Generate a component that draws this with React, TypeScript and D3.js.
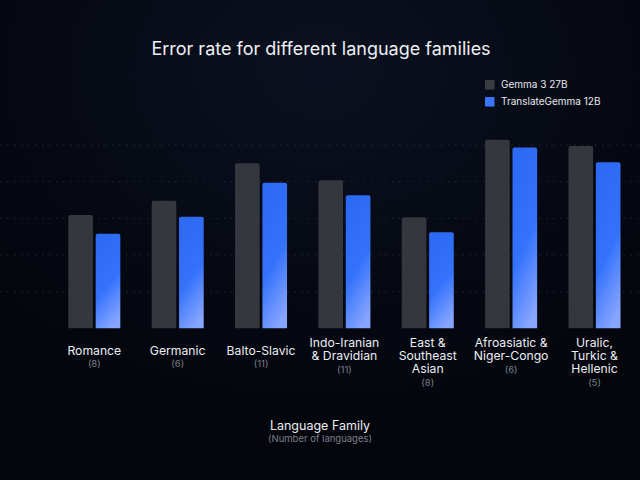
import React from "react";
import * as d3 from "d3";

const categories = [
  "Romance",
  "Germanic",
  "Balto-Slavic",
  "Indo-Iranian & Dravidian",
  "East & Southeast Asian",
  "Afroasiatic & Niger-Congo",
  "Uralic, Turkic & Hellenic",
];
const labelLines = [
  ["Romance"],
  ["Germanic"],
  ["Balto-Slavic"],
  ["Indo-Iranian", "& Dravidian"],
  ["East &", "Southeast", "Asian"],
  ["Afroasiatic &", "Niger-Congo"],
  ["Uralic,", "Turkic &", "Hellenic"],
];
const languageCounts = [8, 6, 11, 11, 8, 6, 5];
const seriesNames = ["Gemma 3 27B", "TranslateGemma 12B"];
const gemmaValues = [3.09, 3.48, 4.5, 4.04, 3.03, 5.14, 4.97];
const translateValues = [2.58, 3.04, 3.97, 3.63, 2.62, 4.93, 4.53];
const gridTicks = [1, 2, 3, 4, 5];

const W = 640;
const H = 480;
const FONT = "Inter, 'Open Sans', sans-serif";

function topRoundedRect(x: number, y: number, w: number, h: number, r: number) {
  const rr = Math.min(r, w / 2, h);
  return `M${x},${y + h}V${y + rr}Q${x},${y} ${x + rr},${y}H${x + w - rr}Q${x + w},${y} ${x + w},${y + rr}V${y + h}Z`;
}

export default function App() {
  const x0 = d3
    .scaleBand<string>()
    .domain(categories)
    .range([68.3, 620.5])
    .paddingInner(0.376)
    .paddingOuter(0);
  const x1 = d3
    .scaleBand<string>()
    .domain(seriesNames)
    .range([0, x0.bandwidth()])
    .paddingInner(0.1);
  const y = d3.scaleLinear().domain([0, 5]).range([328.3, 145]);

  const seriesValues = [gemmaValues, translateValues];
  const fills = ["#35373e", "url(#blueGrad)"];

  return (
    <svg
      width={W}
      height={H}
      viewBox={`0 0 ${W} ${H}`}
      style={{ position: "absolute", left: 0, top: 0, display: "block" }}
      fontFamily={FONT}
    >
      <defs>
        <radialGradient id="bg" cx="0.5" cy="0.15" r="0.85">
          <stop offset="0" stopColor="#0b1120" />
          <stop offset="0.6" stopColor="#050811" />
          <stop offset="1" stopColor="#03050a" />
        </radialGradient>
        <linearGradient id="blueGrad" x1="0.3" y1="0" x2="0.6" y2="1">
          <stop offset="0" stopColor="#2c6af4" />
          <stop offset="0.55" stopColor="#3472fc" />
          <stop offset="1" stopColor="#86a5ff" />
        </linearGradient>
      </defs>
      <rect x={0} y={0} width={W} height={H} fill="url(#bg)" />

      <text x={321} y={55} textAnchor="middle" fill="#eef0f4" fontSize={18}>
        Error rate for different language families
      </text>

      {/* legend */}
      {seriesNames.map((s, i) => (
        <g key={s} transform={`translate(485, ${80 + i * 17})`}>
          <rect width={9.5} height={9.5} fill={i === 0 ? "#3a3c43" : "#3a74ff"} rx={0.5} />
          <text x={16} y={8.3} fontSize={10} fill="#e6e8ec">
            {s}
          </text>
        </g>
      ))}

      {/* gridlines */}
      {gridTicks.map((t) => (
        <line
          key={t}
          x1={0}
          x2={W}
          y1={y(t)}
          y2={y(t)}
          stroke="#252a37"
          strokeWidth={1}
          strokeDasharray="1.5 5.5"
        />
      ))}

      {/* bars */}
      {categories.map((c, ci) => (
        <g key={c} transform={`translate(${x0(c)},0)`}>
          {seriesNames.map((s, si) => {
            const v = seriesValues[si][ci];
            const top = y(v);
            return (
              <path
                key={s}
                d={topRoundedRect(x1(s)!, top, x1.bandwidth(), y(0) - top, 2)}
                fill={fills[si]}
              />
            );
          })}
        </g>
      ))}

      {/* category labels */}
      {categories.map((c, ci) => {
        const cx = x0(c)! + x0.bandwidth() / 2;
        const lines = labelLines[ci];
        const firstY = lines.length === 1 ? 354.5 : 347.3;
        return (
          <g key={c}>
            {lines.map((ln, li) => (
              <text
                key={li}
                x={cx}
                y={firstY + li * 13}
                textAnchor="middle"
                fontSize={12.2}
                fill="#eceef2"
              >
                {ln}
              </text>
            ))}
            <text
              x={cx}
              y={firstY + (lines.length - 1) * 13 + 12.3}
              textAnchor="middle"
              fontSize={9.5}
              fill="#7c808a"
            >
              ({languageCounts[ci]})
            </text>
          </g>
        );
      })}

      <text x={320} y={429.5} textAnchor="middle" fontSize={12.5} fill="#eceef2">
        Language Family
      </text>
      <text x={320} y={441.5} textAnchor="middle" fontSize={9.5} fill="#7c808a">
        (Number of languages)
      </text>
    </svg>
  );
}
